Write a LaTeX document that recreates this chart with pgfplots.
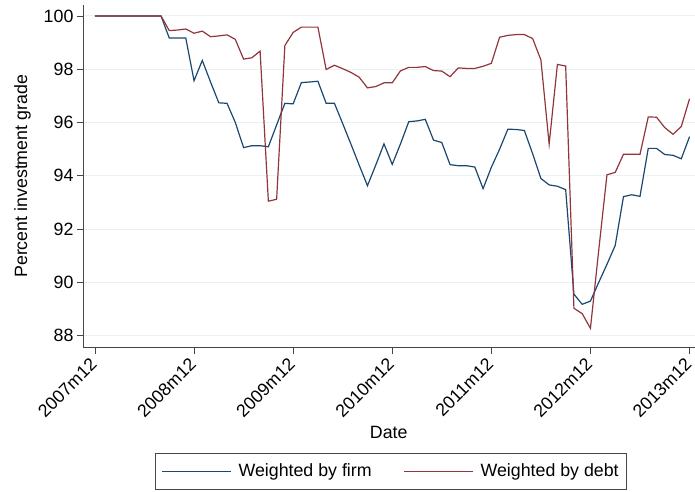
\documentclass[border=0pt]{standalone}
\usepackage{pgfplots}
\pgfplotsset{compat=1.18}
\usepackage{fontspec}
\setmainfont{Liberation Sans}
\definecolor{stnavy}{RGB}{26,71,111}
\definecolor{stmaroon}{RGB}{144,53,59}
\definecolor{stgrid}{RGB}{234,242,243}
\definecolor{staxis}{RGB}{70,70,70}
\newcommand{\fs}{\fontsize{17.8bp}{21bp}\selectfont}
\begin{document}
\begin{tikzpicture}
\begin{axis}[
  scale only axis,
  width=612bp, height=343bp,
  xmin=-1.452, xmax=72.6,
  ymin=87.55, ymax=100.41,
  axis x line*=bottom, axis y line*=left,
  axis line style={-, staxis, line width=0.8pt},
  tick align=outside,
  major tick length=6bp,
  tick style={staxis, line width=0.8pt},
  xtick={0,12,24,36,48,60,72},
  xticklabels={2007m12,2008m12,2009m12,2010m12,2011m12,2012m12,2013m12},
  xticklabel style={yshift=-7bp, xshift=-0.5bp, rotate=45, anchor=east, inner sep=1bp, font=\fs},
  ytick={88,90,92,94,96,98,100},
  yticklabel style={font=\fs},
  /pgf/number format/assume math mode=true,
  ymajorgrids,
  grid style={stgrid, line width=1pt},
  xlabel={Date}, ylabel={Percent investment grade},
  label style={font=\fs},
  xlabel style={yshift=-3bp},
  ylabel style={yshift=6bp},
  legend columns=2,
  legend style={at={(0.504,-0.306)}, anchor=north, font=\fs, draw=staxis, line width=0.6pt,
    inner xsep=6bp, inner ysep=9bp,
    /tikz/every odd column/.append style={column sep=5bp},
    /tikz/every even column/.append style={column sep=30bp}},
  legend image code/.code={\draw[#1, line width=1pt] (0bp,0bp) -- (69bp,0bp);},
  legend cell align=left,
]
\addplot[stnavy, line width=1.2pt] coordinates {
(0,100)(1,100)(2,100)(3,100)(4,100)(5,100)(6,100)(7,100)(8,100)
(9,99.17)(10,99.17)(11,99.17)(12,97.57)(13,98.33)(14,97.52)(15,96.74)(16,96.72)
(17,96.0)(18,95.06)(19,95.13)(20,95.13)(21,95.09)(22,95.91)(23,96.72)(24,96.70)
(25,97.50)(26,97.52)(27,97.55)(28,96.72)(29,96.72)(30,95.96)(31,95.19)(32,94.40)
(33,93.63)(34,94.40)(35,95.20)(36,94.43)(37,95.20)(38,96.03)(39,96.06)(40,96.12)
(41,95.34)(42,95.25)(43,94.42)(44,94.38)(45,94.38)(46,94.33)(47,93.52)(48,94.32)
(49,95.0)(50,95.75)(51,95.74)(52,95.70)(53,94.83)(54,93.9)(55,93.66)(56,93.61)
(57,93.48)(58,89.56)(59,89.18)(60,89.30)(61,90.0)(62,90.68)(63,91.39)(64,93.22)
(65,93.29)(66,93.23)(67,95.03)(68,95.03)(69,94.80)(70,94.77)(71,94.64)(72,95.47)
};
\addlegendentry{Weighted by firm}
\addplot[stmaroon, line width=1.2pt] coordinates {
(0,100)(1,100)(2,100)(3,100)(4,100)(5,100)(6,100)(7,100)(8,100)
(9,99.45)(10,99.47)(11,99.51)(12,99.35)(13,99.43)(14,99.22)(15,99.25)(16,99.29)
(17,99.12)(18,98.38)(19,98.43)(20,98.68)(21,93.05)(22,93.12)(23,98.89)(24,99.38)
(25,99.58)(26,99.58)(27,99.58)(28,97.99)(29,98.15)(30,98.02)(31,97.88)(32,97.70)
(33,97.30)(34,97.35)(35,97.49)(36,97.49)(37,97.94)(38,98.07)(39,98.07)(40,98.10)
(41,97.95)(42,97.93)(43,97.72)(44,98.05)(45,98.03)(46,98.03)(47,98.11)(48,98.22)
(49,99.2)(50,99.27)(51,99.30)(52,99.30)(53,99.15)(54,98.35)(55,95.19)(56,98.18)
(57,98.12)(58,89.03)(59,88.83)(60,88.28)(61,91.2)(62,94.04)(63,94.13)(64,94.81)
(65,94.81)(66,94.81)(67,96.21)(68,96.20)(69,95.81)(70,95.56)(71,95.85)(72,96.89)
};
\addlegendentry{Weighted by debt}
\end{axis}
\path (-83bp,-144bp) rectangle (612bp,348bp);
\end{tikzpicture}
\end{document}
